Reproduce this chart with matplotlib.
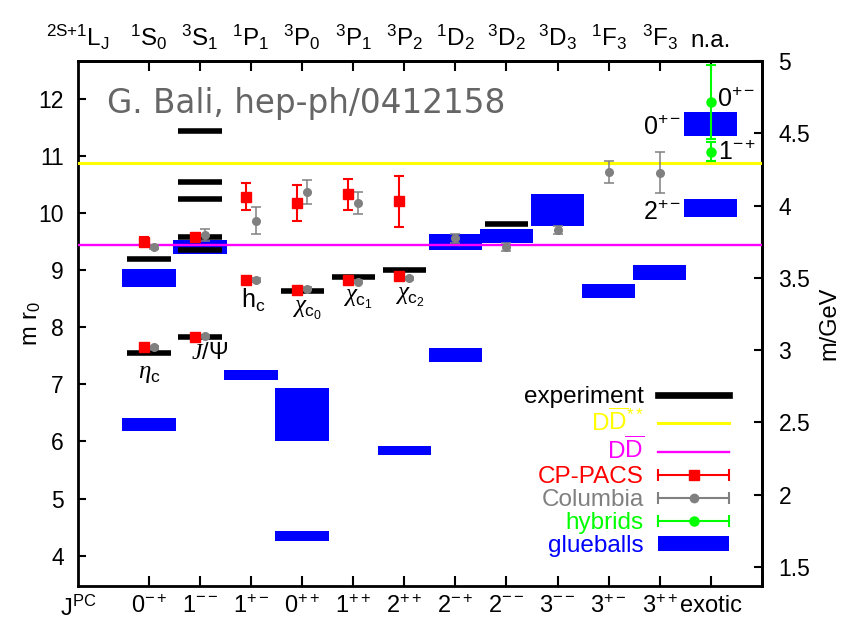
import matplotlib
matplotlib.use("Agg")
import matplotlib.pyplot as plt
import numpy as np
from matplotlib.lines import Line2D
from matplotlib.patches import Rectangle
from matplotlib.legend_handler import HandlerBase
from matplotlib.ticker import FormatStrFormatter

plt.rcParams['font.family'] = ['Liberation Sans', 'DejaVu Sans']
plt.rcParams['mathtext.fontset'] = 'custom'
plt.rcParams['mathtext.rm'] = 'Liberation Sans'
plt.rcParams['mathtext.it'] = 'Liberation Serif:italic'
plt.rcParams['mathtext.bf'] = 'Liberation Sans:bold'
plt.rcParams['mathtext.default'] = 'regular'

# m r0 per GeV (r0 = 0.5 fm)
R0_GEV = 2.5333

jpc = [r'0$^{-+}$', r'1$^{--}$', r'1$^{+-}$', r'0$^{++}$', r'1$^{++}$', r'2$^{++}$',
       r'2$^{-+}$', r'2$^{--}$', r'3$^{--}$', r'3$^{+-}$', r'3$^{++}$', 'exotic']
lsj = [r'$^1$S$_0$', r'$^3$S$_1$', r'$^1$P$_1$', r'$^3$P$_0$', r'$^3$P$_1$', r'$^3$P$_2$',
       r'$^1$D$_2$', r'$^3$D$_2$', r'$^3$D$_3$', r'$^1$F$_3$', r'$^3$F$_3$', 'n.a.']

# experiment (charmonium states), m r0
exp_x = [0, 0, 1, 1, 1, 1, 1, 1, 3, 4, 5, 7]
exp_m = [7.545, 9.20, 7.836, 9.355, 9.58, 10.24, 10.55, 11.445, 8.64, 8.89, 9.01, 9.81]

# thresholds
dd_m = 9.45
ddss_m = 10.88

# glueballs (bands)
glue_x = [0, 0, 1, 2, 3, 3, 5, 6, 6, 7, 8, 9, 10, 11, 11]
glue_lo = [6.19, 8.71, 9.28, 7.07, 6.015, 4.26, 5.77, 7.40, 9.36, 9.48, 9.78, 8.52, 8.83, 9.94, 11.36]
glue_hi = [6.42, 9.02, 9.525, 7.25, 6.94, 4.43, 5.92, 7.64, 9.64, 9.72, 10.34, 8.76, 9.09, 10.24, 11.77]

# CP-PACS
cp_x = [0, 0, 1, 1, 2, 2, 3, 3, 4, 4, 5, 5]
cp_m = [7.65, 9.50, 7.83, 9.59, 8.83, 10.29, 8.66, 10.18, 8.83, 10.33, 8.90, 10.21]
cp_err = [0.03, 0.08, 0.03, 0.05, 0.03, 0.235, 0.03, 0.32, 0.03, 0.27, 0.03, 0.45]

# Columbia
col_x = [0, 0, 1, 1, 2, 2, 3, 3, 4, 4, 5, 6, 7, 8, 9, 10]
col_m = [7.65, 9.41, 7.84, 9.62, 8.83, 9.87, 8.68, 10.37, 8.80, 10.18, 8.86, 9.56, 9.41, 9.70, 10.72, 10.71]
col_err = [0.03, 0.04, 0.03, 0.10, 0.03, 0.235, 0.03, 0.205, 0.03, 0.195, 0.03, 0.08, 0.07, 0.07, 0.20, 0.365]

# hybrids
hyb_x = [11, 11]
hyb_m = [11.95, 11.08]
hyb_err = [0.65, 0.17]

RED, GRAY, GREEN, BLUE = '#ff0000', '#808080', '#00ff00', '#0000ff'
YELLOW, MAGENTA = '#ffff00', '#ff00ff'


class CapLineHandler(HandlerBase):
    # gnuplot style errorbar key: horizontal bar with end caps and a point
    def create_artists(self, legend, orig_handle, xdescent, ydescent,
                       width, height, fontsize, trans):
        y = (height - ydescent) / 2
        x0, x1 = -xdescent, width - xdescent
        col = orig_handle.get_color()
        lw = orig_handle.get_linewidth()
        bar = Line2D([x0, x1], [y, y], color=col, lw=lw, transform=trans)
        caps = Line2D([x0, x1], [y, y], ls='none', marker='|', ms=9, mew=lw,
                      color=col, transform=trans)
        dot = Line2D([(x0 + x1) / 2], [y], ls='none', marker=orig_handle.get_marker(),
                     ms=orig_handle.get_markersize(), color=col, transform=trans)
        return [bar, caps, dot]


fig = plt.figure(figsize=(8.43, 6.28), dpi=100)
ax = fig.add_axes([0.0929, 0.0674, 0.8107, 0.8355])
xmin, xmax = -1.385, 12
ax.set_xlim(xmin, xmax)
ax.set_ylim(3.474, 5 * R0_GEV)

# glueballs
ax.bar(glue_x, np.array(glue_hi) - np.array(glue_lo), bottom=glue_lo, width=1.05,
       color=BLUE, linewidth=0, zorder=1)
# experiment
ex = np.array(exp_x)
ax.hlines(exp_m, ex - 0.425, ex + 0.425, colors='k', lw=4, zorder=2)
# thresholds
ax.axhline(ddss_m, color=YELLOW, lw=2.2, zorder=3)
ax.axhline(dd_m, color=MAGENTA, lw=1.7, zorder=3)
# lattice
ax.errorbar(np.array(cp_x) - 0.1, cp_m, yerr=cp_err, fmt='s', color=RED, ms=7.5,
            capsize=3.6, elinewidth=1.5, capthick=1.5, zorder=4)
col_dx = [0.1 if c in cp_x else 0.0 for c in col_x]
ax.errorbar(np.array(col_x) + np.array(col_dx), col_m, yerr=col_err, fmt='o', color=GRAY,
            ms=5.5, capsize=3.6, elinewidth=1.1, capthick=1.1, zorder=4)
ax.errorbar(hyb_x, hyb_m, yerr=hyb_err, fmt='o', color=GREEN, ms=6.5,
            capsize=3.6, elinewidth=1.5, capthick=1.5, zorder=5)

# labels of states
ax.text(0, 7.2, r'$\mathit{\eta}_c$', fontsize=18, ha='center', va='center')
ax.text(1.175, 7.55, r'$\mathit{J}$/$\Psi$', fontsize=17, ha='center', va='center')
ax.text(2.04, 8.48, r'h$_c$', fontsize=18, ha='center', va='center')
ax.text(3.1, 8.3, r'$\mathit{\chi}_{c_0}$', fontsize=18, ha='center', va='center')
ax.text(4.1, 8.5, r'$\mathit{\chi}_{c_1}$', fontsize=18, ha='center', va='center')
ax.text(5.11, 8.54, r'$\mathit{\chi}_{c_2}$', fontsize=18, ha='center', va='center')

ax.text(11.12, 11.865, r'0$^{+-}$', fontsize=18, ha='left', va='baseline')
ax.text(10.43, 11.37, r'0$^{+-}$', fontsize=18, ha='right', va='baseline')
ax.text(11.14, 10.93, r'1$^{-+}$', fontsize=18, ha='left', va='baseline')
ax.text(10.43, 9.88, r'2$^{+-}$', fontsize=18, ha='right', va='baseline')

ax.text(-0.83, 11.75, 'G. Bali, hep-ph/0412158', fontsize=23.5, color='#666666',
        family='DejaVu Sans', ha='left', va='baseline')

# axes
ax.set_xticks(range(12), jpc)
ax.set_yticks(range(4, 13))
ax.tick_params(axis='x', direction='in', length=7.2, width=1.5, pad=7, labelsize=17)
ax.tick_params(axis='y', direction='in', length=5.8, width=1.5, pad=10.5, labelsize=16.5)
for sp in ax.spines.values():
    sp.set_linewidth(2)

top = ax.secondary_xaxis('top')
top.set_xticks(range(12), lsj)
top.tick_params(direction='in', length=7.2, width=1.5, pad=6.5, labelsize=17.5)
top.spines['top'].set_linewidth(2)

right = ax.secondary_yaxis('right', functions=(lambda m: m / R0_GEV, lambda g: g * R0_GEV))
right.set_yticks([1.5, 2, 2.5, 3, 3.5, 4, 4.5, 5])
right.yaxis.set_major_formatter(FormatStrFormatter('%g'))
right.tick_params(direction='in', length=5.8, width=1.5, pad=12, labelsize=16.5)
right.spines['right'].set_linewidth(2)
right.set_ylabel('m/GeV', fontsize=17, labelpad=6)

ax.set_ylabel(r'm r$_0$', fontsize=17)
ax.yaxis.set_label_coords(-0.052, 0.5)

ax.annotate(r'J$^{PC}$', xy=(xmin, 0), xycoords=('data', 'axes fraction'),
            xytext=(0, -7), textcoords='offset points', ha='center', va='top',
            fontsize=17, annotation_clip=False)
ax.annotate(r'$^{2S{+}1}$L$_J$', xy=(xmin, 1), xycoords=('data', 'axes fraction'),
            xytext=(0, 6.5), textcoords='offset points', ha='center', va='bottom',
            fontsize=17.5, annotation_clip=False)

# key
handles = [
    Line2D([], [], color='k', lw=4.8),
    Line2D([], [], color=YELLOW, lw=2.2),
    Line2D([], [], color=MAGENTA, lw=1.7),
    Line2D([], [], color=RED, lw=1.5, marker='s', ms=7),
    Line2D([], [], color=GRAY, lw=1.5, marker='o', ms=6),
    Line2D([], [], color=GREEN, lw=1.5, marker='o', ms=6.5),
    Rectangle((0, 0), 1, 1, color=BLUE, lw=0),
]
names = ['experiment', r'D$\overline{\rm D}$$^{**}$', r'D$\overline{\rm D}$', 'CP-PACS',
         'Columbia', 'hybrids', 'glueballs']
name_colors = ['k', YELLOW, MAGENTA, RED, GRAY, GREEN, BLUE]
hmap = {h: CapLineHandler() for h in handles[3:6]}
leg = ax.legend(handles, names, handler_map=hmap, loc='lower right',
                bbox_to_anchor=(0.952, 0.054), frameon=False, markerfirst=False,
                fontsize=17.5, handlelength=2.9, handleheight=0.55, handletextpad=0.6,
                labelspacing=0.05, borderpad=0, borderaxespad=0)
for t, c in zip(leg.get_texts(), name_colors):
    t.set_color(c)

fig.savefig('out.png', dpi=100)
